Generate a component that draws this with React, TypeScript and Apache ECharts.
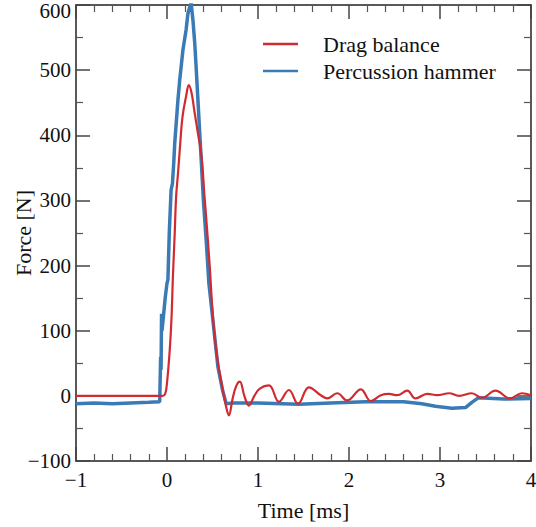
import React, { useEffect, useRef } from "react";
import * as echarts from "echarts";

const redTime = [-1, -0.05, -0.02, 0.0, 0.03, 0.05, 0.065, 0.085, 0.1, 0.12, 0.14, 0.17, 0.21, 0.24, 0.27, 0.3, 0.34, 0.38, 0.41, 0.43, 0.47, 0.5, 0.54, 0.6, 0.65, 0.68, 0.72, 0.76, 0.8, 0.85, 0.9, 0.96, 1.02, 1.12, 1.23, 1.34, 1.44, 1.56, 1.69, 1.76, 1.87, 1.98, 2.13, 2.24, 2.35, 2.44, 2.53, 2.64, 2.73, 2.86, 2.97, 3.1, 3.21, 3.35, 3.46, 3.61, 3.77, 3.9, 4.0];
const redForce = [0, 0, 3, 20, 70, 121, 183, 250, 305, 340, 377, 428, 460, 477, 465, 438, 403, 367, 310, 275, 198, 131, 70, 19, -17, -30, -5, 15, 22, 0, -15, 0, 11, 16, -9, 9, -12, 13, 1, -4, 4, -7, 10, -8, 1, 3, 1, 8, -4, 3, 1, 4, 0, 4, -3, 8, -4, 4, 1];

const blueTime = [-1, -0.8, -0.6, -0.4, -0.2, -0.08, -0.07, -0.065, -0.06, -0.055, -0.04, -0.02, 0.0, 0.01, 0.025, 0.045, 0.06, 0.075, 0.085, 0.12, 0.14, 0.175, 0.21, 0.23, 0.25, 0.265, 0.285, 0.305, 0.32, 0.34, 0.36, 0.38, 0.4, 0.43, 0.46, 0.52, 0.56, 0.61, 0.65, 0.72, 1.0, 1.45, 1.8, 2.18, 2.6, 2.8, 2.95, 3.13, 3.28, 3.35, 3.42, 3.7, 4.0];
const blueForce = [-12, -11, -12, -11, -10, -9, 60, 40, 126, 100, 121, 150, 173, 178, 250, 316, 326, 360, 388, 454, 485, 531, 562, 587, 597, 603, 577, 541, 505, 454, 403, 352, 300, 240, 173, 96, 44, 9, -12, -11, -11, -13, -11, -9, -9, -12, -16, -19, -18, -10, -3, -5, -4];

const xTicks = { min: -1, max: 4, interval: 1 };
const yTicks = { min: -100, max: 600, interval: 100 };
const seriesNames = ["Drag balance", "Percussion hammer"];

const RED = "#d12a30";
const BLUE = "#3a7bb6";
const FONT = "'Liberation Serif', 'Times New Roman', serif";

export default function App() {
  const ref = useRef<HTMLDivElement>(null);
  useEffect(() => {
    if (!ref.current) return;
    const chart = echarts.init(ref.current, undefined, { renderer: "svg" });
    const red = redTime.map((t, i) => [t, redForce[i]]);
    const blue = blueTime.map((t, i) => [t, blueForce[i]]);
    const lineStyle = { color: "#222", width: 1.5 };
    const tickCommon = {
      show: true,
      inside: true,
      length: 14,
      lineStyle: { color: "#444", width: 1.5 },
    };
    const minorCommon = {
      show: true,
      length: 7,
      lineStyle: { color: "#555", width: 1.2 },
    };
    const fmt = (v: number) => (v < 0 ? "\u2212" + Math.abs(v) : String(v));
    const xBase = {
      type: "value",
      min: xTicks.min,
      max: xTicks.max,
      interval: xTicks.interval,
      splitLine: { show: false },
      axisLine: { show: true, onZero: false, lineStyle },
      axisTick: tickCommon,
      minorTick: { ...minorCommon, splitNumber: 5 },
    };
    const yBase = {
      type: "value",
      min: yTicks.min,
      max: yTicks.max,
      interval: yTicks.interval,
      splitLine: { show: false },
      axisLine: { show: true, onZero: false, lineStyle },
      axisTick: tickCommon,
      minorTick: { ...minorCommon, splitNumber: 2 },
    };
    chart.setOption({
      animation: false,
      backgroundColor: "#fff",
      textStyle: { fontFamily: FONT },
      grid: {
        left: 76,
        right: 5,
        top: 5,
        bottom: 66,
        containLabel: false,
        outerBoundsMode: "none",
      },
      legend: {
        data: seriesNames,
        orient: "vertical",
        left: 258,
        top: 28,
        icon: "rect",
        itemWidth: 35,
        itemHeight: 2.5,
        itemGap: 5,
        textStyle: {
          fontFamily: FONT,
          fontSize: 22,
          color: "#111",
          lineHeight: 22,
          padding: [0, 0, 0, 20],
        },
      },
      xAxis: [
        {
          ...xBase,
          position: "bottom",
          name: "Time [ms]",
          nameLocation: "middle",
          nameGap: 38,
          nameTextStyle: { fontFamily: FONT, fontSize: 22, color: "#111" },
          axisLabel: {
            fontFamily: FONT,
            fontSize: 21,
            color: "#111",
            margin: 8,
            formatter: fmt,
          },
        },
        {
          ...xBase,
          position: "top",
          axisLabel: { show: false },
        },
      ],
      yAxis: [
        {
          ...yBase,
          position: "left",
          name: "Force [N]",
          nameLocation: "middle",
          nameGap: 42,
          nameMoveOverlap: false,
          nameTextStyle: { fontFamily: FONT, fontSize: 22, color: "#111" },
          axisLabel: {
            fontFamily: FONT,
            fontSize: 21,
            color: "#111",
            margin: 5,
            formatter: (v: number) =>
              v === yTicks.max ? "{top|" + fmt(v) + "}" : fmt(v),
            rich: {
              top: {
                fontFamily: FONT,
                fontSize: 21,
                color: "#111",
                padding: [12, 0, 0, 0],
              },
            },
          },
        },
        {
          ...yBase,
          position: "right",
          axisLabel: { show: false },
        },
      ],
      series: [
        {
          name: seriesNames[1],
          type: "line",
          data: blue,
          showSymbol: false,
          symbol: "none",
          color: BLUE,
          lineStyle: { color: BLUE, width: 3.5 },
          z: 2,
        },
        {
          name: seriesNames[0],
          type: "line",
          data: red,
          smooth: 0.4,
          showSymbol: false,
          symbol: "none",
          color: RED,
          lineStyle: { color: RED, width: 2.2 },
          z: 3,
        },
      ],
    });
    return () => chart.dispose();
  }, []);
  return (
    <div
      ref={ref}
      style={{ position: "fixed", left: 0, top: 0, width: 536, height: 527 }}
    />
  );
}
